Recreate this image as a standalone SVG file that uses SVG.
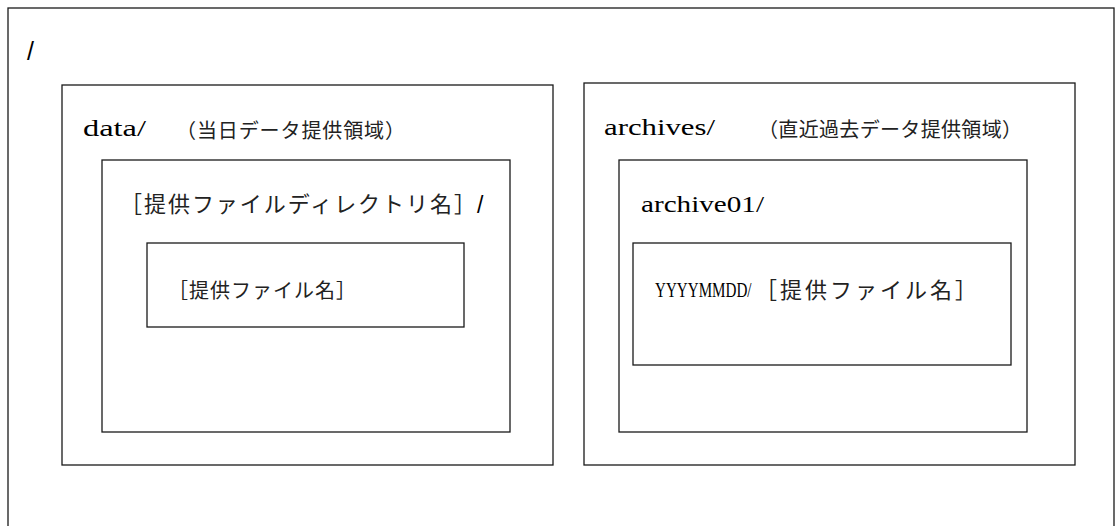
<svg xmlns="http://www.w3.org/2000/svg" width="1116" height="526" viewBox="0 0 1116 526">
<style>
.box{fill:none;stroke:#1a1a1a;stroke-width:1.3}
.lat{font-family:"Liberation Serif","Noto Sans CJK JP",serif;fill:#000}
.jp{font-family:"Noto Sans CJK JP",sans-serif;fill:#222}
.sl{font-family:"Liberation Sans",sans-serif;fill:#000}
</style>
<rect width="1116" height="526" fill="#fff"/>
<g id="root">
<rect class="box" x="8" y="8" width="1106" height="540"/>
<text class="sl" x="27" y="60" font-size="25">/</text>
</g>
<g id="data">
<rect class="box" x="62" y="85" width="491" height="380"/>
<text class="lat" x="83" y="136" font-size="24" textLength="63" lengthAdjust="spacingAndGlyphs">data/</text>
<text class="jp" x="176" y="138" font-size="20" textLength="229">（当日データ提供領域）</text>
</g>
<g id="dir">
<rect class="box" x="102" y="160" width="408" height="272"/>
<text class="jp" x="120" y="212" font-size="22" textLength="356">［提供ファイルディレクトリ名］</text>
<text class="sl" x="477" y="213" font-size="23">/</text>
</g>
<g id="file">
<rect class="box" x="147" y="243" width="317" height="84"/>
<text class="jp" x="168" y="298" font-size="20" textLength="188">［提供ファイル名］</text>
</g>
<g id="archives">
<rect class="box" x="584" y="83" width="491" height="382"/>
<text class="lat" x="604" y="135" font-size="24" textLength="111" lengthAdjust="spacingAndGlyphs">archives/</text>
<text class="jp" x="758" y="137" font-size="20" textLength="264">（直近過去データ提供領域）</text>
</g>
<g id="archive01">
<rect class="box" x="619" y="160" width="408" height="272"/>
<text class="lat" x="641" y="212" font-size="24" textLength="123" lengthAdjust="spacingAndGlyphs">archive01/</text>
</g>
<g id="dated">
<rect class="box" x="633" y="243" width="378" height="122"/>
<text class="lat" transform="translate(655,297) scale(0.72,1)" font-size="21">YYYYMMDD/</text>
<text class="jp" x="755" y="298" font-size="22" textLength="222">［提供ファイル名］</text>
</g>
<g id="connectors"/>
</svg>
